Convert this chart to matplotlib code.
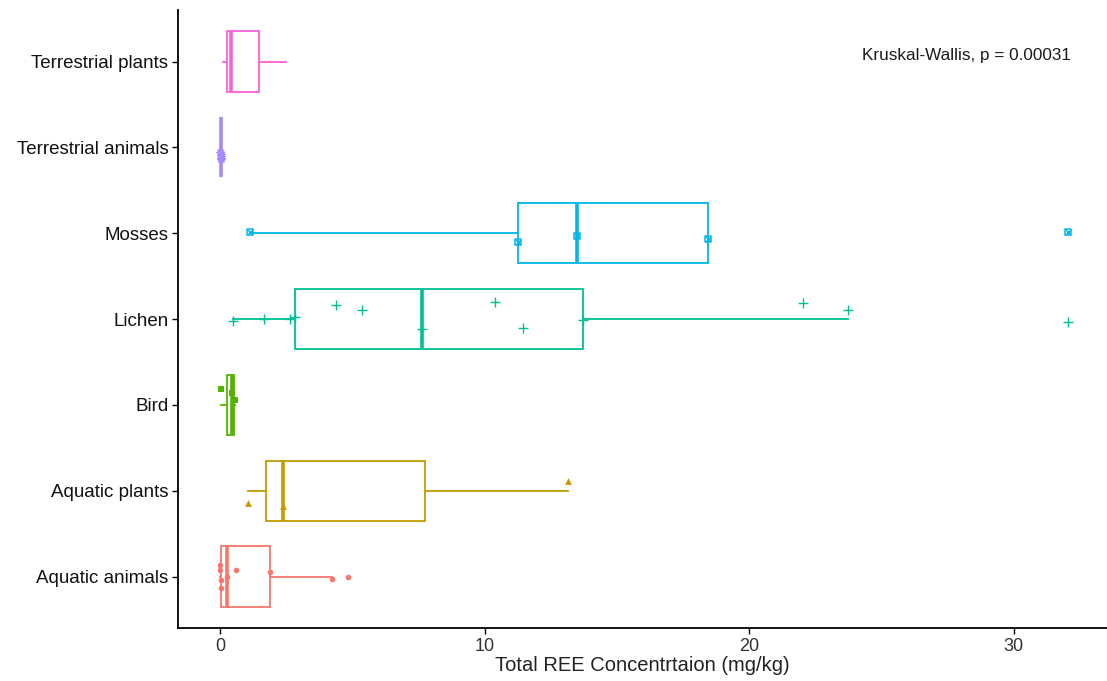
import matplotlib
matplotlib.use("Agg")
import matplotlib.pyplot as plt
import numpy as np

plt.rcParams['font.family'] = ['Liberation Sans', 'DejaVu Sans']

# Groups, bottom to top
groups = ["Aquatic animals", "Aquatic plants", "Bird", "Lichen",
          "Mosses", "Terrestrial animals", "Terrestrial plants"]
colors = ["#F8766D", "#C49A00", "#53B400", "#00C094",
          "#00B6EB", "#A58AFF", "#FB61D7"]

# Total REE concentration (mg/kg) per sample
aquatic_animals = [0.00, 0.01, 0.02, 0.03, 0.25, 0.60, 1.89, 4.22, 4.82]
aquatic_plants = [1.07, 2.37, 13.16]
bird = [0.03, 0.47, 0.56]
lichen = [0.49, 1.67, 2.65, 2.84, 4.39, 5.36, 7.64, 10.40, 11.47, 13.72,
          22.03, 23.72, 32.07]
mosses = [1.13, 11.25, 13.50, 18.45, 32.07]
terrestrial_animals = [0.01, 0.02, 0.02, 0.03, 0.03]
terrestrial_plants = [0.11, 0.42, 2.50]

values = [aquatic_animals, aquatic_plants, bird, lichen, mosses,
          terrestrial_animals, terrestrial_plants]

# vertical jitter of the sample points (category units)
jitter = [
    [0.13, 0.07, -0.04, -0.13, 0.0, 0.07, 0.05, -0.03, 0.0],
    [-0.14, -0.18, 0.11],
    [0.19, 0.14, 0.06],
    [-0.02, 0.0, 0.0, 0.02, 0.16, 0.11, -0.12, 0.20, -0.10, -0.01, 0.19, 0.10, -0.03],
    [0.015, -0.10, -0.03, -0.07, 0.015],
    [-0.06, -0.10, -0.14, -0.08, -0.12],
    [],
]

fig = plt.figure(figsize=(11.07, 6.81), dpi=100)
ax = fig.add_axes([178 / 1107, 53 / 681, 1 - 178 / 1107, (681 - 53 - 10) / 681])

pos = np.arange(1, len(groups) + 1)
bp = ax.boxplot(values, positions=pos, vert=False, widths=0.7,
                showfliers=False, showcaps=False, patch_artist=True,
                whis=1.5)
for i, c in enumerate(colors):
    bp['boxes'][i].set(facecolor='white', edgecolor=c, linewidth=1.3, zorder=2)
    bp['medians'][i].set(color=c, linewidth=2.6, zorder=3)
    for w in bp['whiskers'][2 * i:2 * i + 2]:
        w.set(color=c, linewidth=1.3, zorder=1)

# sample points
for i, (v, j) in enumerate(zip(values, jitter)):
    if not j:
        continue
    y = pos[i] + np.array(j)
    c = colors[i]
    name = groups[i]
    if name == "Aquatic animals":
        ax.scatter(v, y, marker='o', s=16, color=c, zorder=4, linewidths=0)
    elif name == "Aquatic plants":
        ax.scatter(v, y, marker='^', s=24, color=c, zorder=4, linewidths=0)
    elif name == "Bird":
        ax.scatter(v, y, marker='s', s=16, color=c, zorder=4, linewidths=0)
    elif name == "Lichen":
        ax.scatter(v, y, marker='+', s=45, color=c, zorder=4, linewidths=1.0)
    elif name == "Mosses":
        ax.scatter(v, y, marker='s', s=20, facecolors='none', edgecolors=c,
                   zorder=4, linewidths=1.1)
        ax.scatter(v, y, marker='x', s=14, color=c, zorder=4, linewidths=1.0)
    elif name == "Terrestrial animals":
        ax.scatter(v, y, marker=(8, 2, 0), s=24, color=c, zorder=4,
                   linewidths=1.0)

ax.set_xlim(-1.59, 33.53)
ax.set_ylim(0.4, 7.6)
ax.set_xticks([0, 10, 20, 30])
ax.set_yticks(pos)
ax.set_yticklabels(groups)
ax.tick_params(axis='y', labelsize=13.5, length=4, width=1.0,
               color='black', labelcolor='#111111', pad=3)
ax.tick_params(axis='x', labelsize=13, length=4, width=1.0,
               color='black', labelcolor='#333333', pad=3)
ax.set_xlabel("Total REE Concentrtaion (mg/kg)", fontsize=14.5, labelpad=1,
              color='#222222')

for s in ['top', 'right']:
    ax.spines[s].set_visible(False)
for s in ['left', 'bottom']:
    ax.spines[s].set_linewidth(1.3)

ax.text(24.27, 7.07, "Kruskal-Wallis, p = 0.00031", fontsize=12.3,
        ha='left', va='center', color='#1a1a1a')

fig.savefig("out.png", dpi=100)
